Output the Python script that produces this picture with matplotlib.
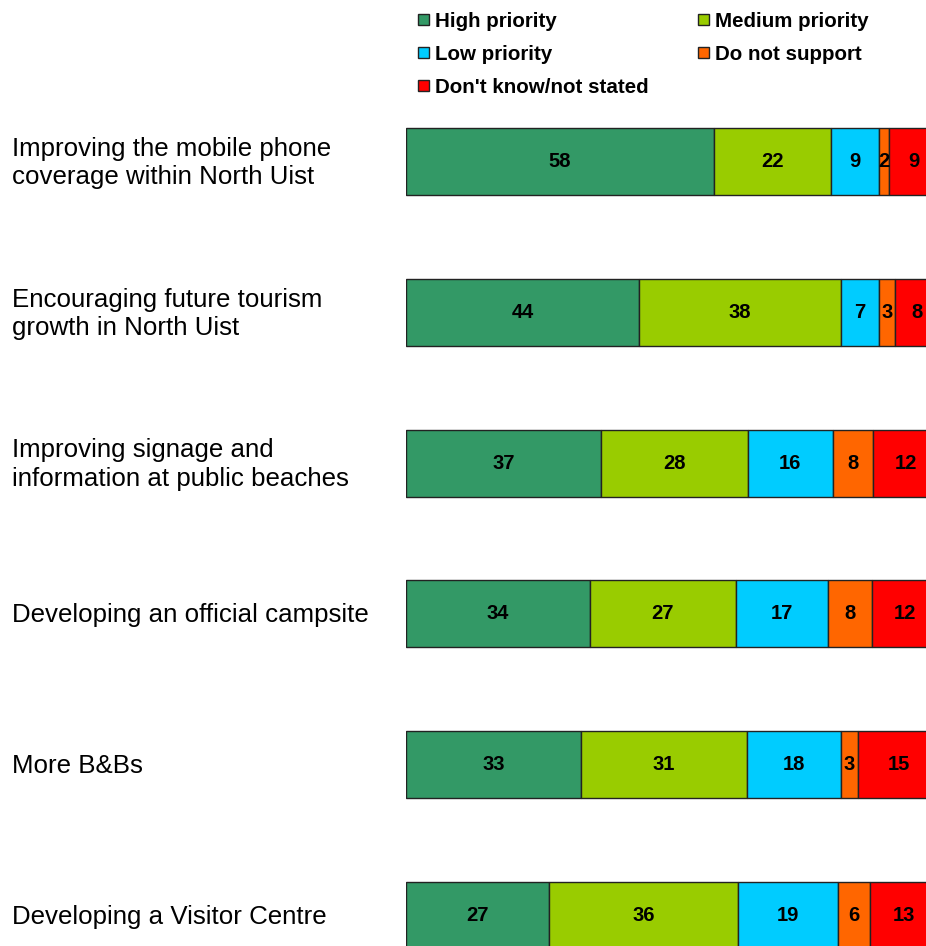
import matplotlib.pyplot as plt
from matplotlib.patches import Rectangle

plt.rcParams["font.family"] = ["Liberation Sans", "DejaVu Sans"]

categories = [
    "Improving the mobile phone\ncoverage within North Uist",
    "Encouraging future tourism\ngrowth in North Uist",
    "Improving signage and\ninformation at public beaches",
    "Developing an official campsite",
    "More B&Bs",
    "Developing a Visitor Centre",
]
series = ["High priority", "Medium priority", "Low priority",
          "Do not support", "Don't know/not stated"]
colors = ["#339966", "#99CC00", "#00CCFF", "#FF6600", "#FF0000"]

# percentage shares (unrounded, as estimated from the bars)
high = [57.8, 43.77, 36.53, 34.45, 32.87, 26.83]
medium = [21.97, 37.77, 27.64, 27.45, 31.03, 35.5]
low = [8.95, 7.24, 15.87, 17.32, 17.69, 18.69]
notsupport = [1.88, 2.96, 7.67, 8.18, 3.23, 5.98]
dontknow = [9.4, 8.26, 12.29, 12.4, 15.18, 13.0]
values = [high, medium, low, notsupport, dontknow]

W, H = 926, 946
fig = plt.figure(figsize=(W / 100, H / 100), dpi=100)

# axes: x=0 at 406px, 5.33 px per unit (right end falls past the image edge)
x0_px = 406
span_px = 533
top_px = 161.5 - 0.5 * 150.8
bot_px = top_px + 6 * 150.8
ax = fig.add_axes([x0_px / W, 1 - bot_px / H, span_px / W, (bot_px - top_px) / H])

ypos = list(range(len(categories)))
lefts = [0] * len(categories)
for vals, col in zip(values, colors):
    ax.barh(ypos, vals, left=lefts, height=0.445, color=col,
            edgecolor="#222222", linewidth=1)
    for y, v, l in zip(ypos, vals, lefts):
        ax.text(l + v / 2, y, f"{v:.0f}", ha="center", va="center",
                fontsize=14.5, fontweight="bold", color="black")
    lefts = [a + b for a, b in zip(lefts, vals)]

ax.set_xlim(0, 100)
ax.set_ylim(len(categories) - 0.5, -0.5)
ax.axis("off")

# category labels at left
trans = ax.get_yaxis_transform()
for y, cat in zip(ypos, categories):
    ax.text((12 - x0_px) / span_px, y + 0.01, cat, transform=trans,
            ha="left", va="center", fontsize=18.6, linespacing=1.24,
            clip_on=False)

# legend, laid out row by row
legend_pos = [(418, 20), (698, 20), (418, 53), (698, 53), (418, 86)]
sq = 11
for (px, py), name, col in zip(legend_pos, series, colors):
    fig.patches.append(Rectangle((px / W, 1 - (py + sq / 2) / H), sq / W, sq / H,
                                 transform=fig.transFigure, facecolor=col,
                                 edgecolor="#222222", linewidth=1))
    fig.text((px + 17) / W, 1 - (py + 1.5) / H, name, ha="left", va="center",
             fontsize=14.8, fontweight="bold")

fig.savefig("out.png", dpi=100)
